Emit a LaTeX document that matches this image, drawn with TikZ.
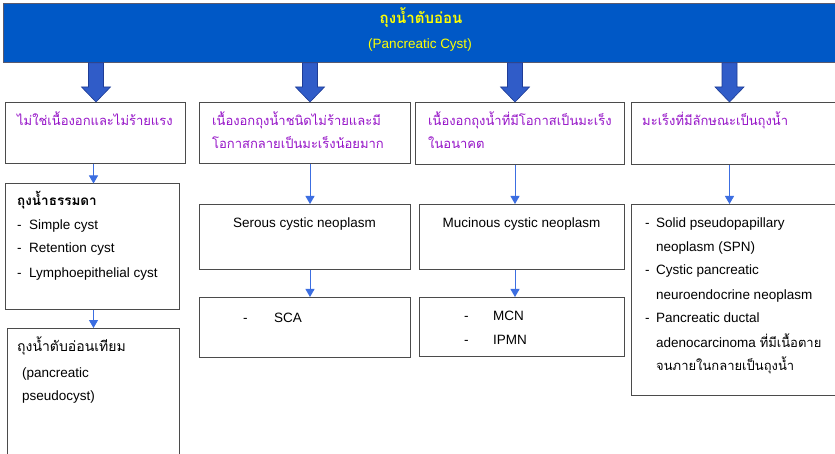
\documentclass[tikz,border=0pt]{standalone}
\usepackage{fontspec}
\setmainfont{Liberation Sans}
\newfontfamily\thai[Script=Thai]{Loma}
\usetikzlibrary{calc,arrows.meta}
\definecolor{bannerblue}{RGB}{0,88,198}
\definecolor{bannerline}{RGB}{90,90,110}
\definecolor{arrowblue}{RGB}{48,92,200}
\definecolor{arrowdark}{RGB}{30,60,150}
\definecolor{thinblue}{RGB}{60,110,225}
\definecolor{purp}{RGB}{150,20,200}
\definecolor{titleyellow}{RGB}{255,255,0}
\definecolor{boxgray}{RGB}{75,75,75}
\newcommand\blockarrow[2]{%
  \path[fill=arrowblue, draw=arrowdark, line width=0.6pt]
    let \p1=(#1 |- #2.north), \p2=(#1 |- banner.south) in
    (\x1-7.5pt,\y2) -- (\x1+7.5pt,\y2) -- (\x1+7.5pt,\y1+15pt) -- (\x1+14.5pt,\y1+15pt)
    -- (\x1,\y1) -- (\x1-14.5pt,\y1+15pt) -- (\x1-7.5pt,\y1+15pt) -- cycle;}
\begin{document}
\begin{tikzpicture}[x=1pt,y=-1pt,
  box/.style={draw=boxgray, line width=1pt, inner sep=0pt, anchor=north west},
  txt/.style={anchor=base west, inner sep=0pt, font=\fontsize{13.5}{16}\selectfont},
  th/.style={anchor=base west, inner sep=0pt, font=\fontsize{13}{16}\selectfont\thai},
  pth/.style={th, text=purp},
  conn/.style={draw=thinblue, line width=0.9pt, -{Triangle[width=9pt,length=8pt]}},
]
\useasboundingbox (0,0) rectangle (835,454);
\clip (0,0) rectangle (835,454);
\fill[white] (0,0) rectangle (835,454);

% banner
\node[box, fill=bannerblue, draw=bannerline, line width=0.8pt, minimum width=840pt, minimum height=59pt] (banner) at (3,3) {};
\node[anchor=base, inner sep=0pt, text=titleyellow, font=\fontsize{15}{16}\selectfont\thai\bfseries] (title1) at (421,24) {ถุงน้ำตับอ่อน};
\node[anchor=base, inner sep=0pt, text=titleyellow, font=\fontsize{13.5}{16}\selectfont] (title2) at (420,49) {(Pancreatic Cyst)};

% column coordinates
\coordinate (colA) at (96,0);
\coordinate (colAt) at (93.5,0);
\coordinate (colB) at (310,0);
\coordinate (colC) at (515,0);
\coordinate (colD) at (729.5,0);

% row 1
\node[box, minimum width=180pt, minimum height=61pt] (A) at (4.5,102) {};
\node[box, minimum width=211pt, minimum height=61pt] (B) at (199,102) {};
\node[box, minimum width=209pt, minimum height=62pt] (C) at (415,102) {};
\node[box, minimum width=215pt, minimum height=62pt] (D) at (631,102) {};

\node[pth] (At1) at (17,126) {ไม่ใช่เนื้องอกและไม่ร้ายแรง};
\node[pth] (Bt1) at (212,126) {เนื้องอกถุงน้ำชนิดไม่ร้ายและมี};
\node[pth] (Bt2) at (212,149) {โอกาสกลายเป็นมะเร็งน้อยมาก};
\node[pth] (Ct1) at (428,126) {เนื้องอกถุงน้ำที่มีโอกาสเป็นมะเร็ง};
\node[pth] (Ct2) at (428,149) {ในอนาคต};
\node[pth] (Dt1) at (642,126) {มะเร็งที่มีลักษณะเป็นถุงน้ำ};

% row 2
\node[box, minimum width=174.5pt, minimum height=125.5pt] (A2) at (4.5,183.5) {};
\node[box, minimum width=211pt, minimum height=65pt] (B2) at (199,204) {};
\node[box, minimum width=205pt, minimum height=65pt] (C2) at (419,204) {};
\node[box, minimum width=215pt, minimum height=191pt] (D2) at (631,204) {};

\node[th, font=\fontsize{13.5}{16}\selectfont\thai\bfseries] (A2t1) at (17,206) {ถุงน้ำธรรมดา};
\node[txt] (A2t2) at (17,230) {\makebox[12pt][l]{-}Simple cyst};
\node[txt] (A2t3) at (17,253) {\makebox[12pt][l]{-}Retention cyst};
\node[txt] (A2t4) at (17,278) {\makebox[12pt][l]{-}Lymphoepithelial cyst};

\node[txt, anchor=base] (B2t) at (304.5,228) {Serous cystic neoplasm};
\node[txt, anchor=base] (C2t) at (521.5,228) {Mucinous cystic neoplasm};

\node[txt] (D2t1) at (645,228) {\makebox[11pt][l]{-}Solid pseudopapillary};
\node[txt] (D2t2) at (656,252) {neoplasm (SPN)};
\node[txt] (D2t3) at (645,275) {\makebox[11pt][l]{-}Cystic pancreatic};
\node[txt] (D2t4) at (656,299) {neuroendocrine neoplasm};
\node[txt] (D2t5) at (645,322) {\makebox[11pt][l]{-}Pancreatic ductal};
\node[txt] (D2t6) at (656,347) {adenocarcinoma {\fontsize{13}{16}\selectfont\thai ที่มีเนื้อตาย}};
\node[th] (D2t7) at (656,370) {จนภายในกลายเป็นถุงน้ำ};

% row 3
\node[box, minimum width=172pt, minimum height=140pt] (A3) at (7,328) {};
\node[box, minimum width=211pt, minimum height=60pt] (B3) at (199,297) {};
\node[box, minimum width=205pt, minimum height=59pt] (C3) at (419,297) {};

\node[th, font=\fontsize{14}{16}\selectfont\thai] (A3t1) at (17,351) {ถุงน้ำตับอ่อนเทียม};
\node[txt] (A3t2) at (22,377) {(pancreatic};
\node[txt] (A3t3) at (22,400) {pseudocyst)};

\node[txt] (B3t) at (243,322) {\makebox[31pt][l]{-}SCA};
\node[txt] (C3t1) at (464,320) {\makebox[29pt][l]{-}MCN};
\node[txt] (C3t2) at (464,344) {\makebox[29pt][l]{-}IPMN};

% block arrows
\blockarrow{colA}{A}
\blockarrow{colB}{B}
\blockarrow{colC}{C}
\blockarrow{colD}{D}

% thin connectors
\draw[conn] (colAt |- A.south) -- (colAt |- A2.north);
\draw[conn] (colB |- B.south) -- (colB |- B2.north);
\draw[conn] (colC |- C.south) -- (colC |- C2.north);
\draw[conn] (colD |- D.south) -- (colD |- D2.north);
\draw[conn] (colAt |- A2.south) -- (colAt |- A3.north);
\draw[conn] (colB |- B2.south) -- (colB |- B3.north);
\draw[conn] (colC |- C2.south) -- (colC |- C3.north);
\end{tikzpicture}
\end{document}
